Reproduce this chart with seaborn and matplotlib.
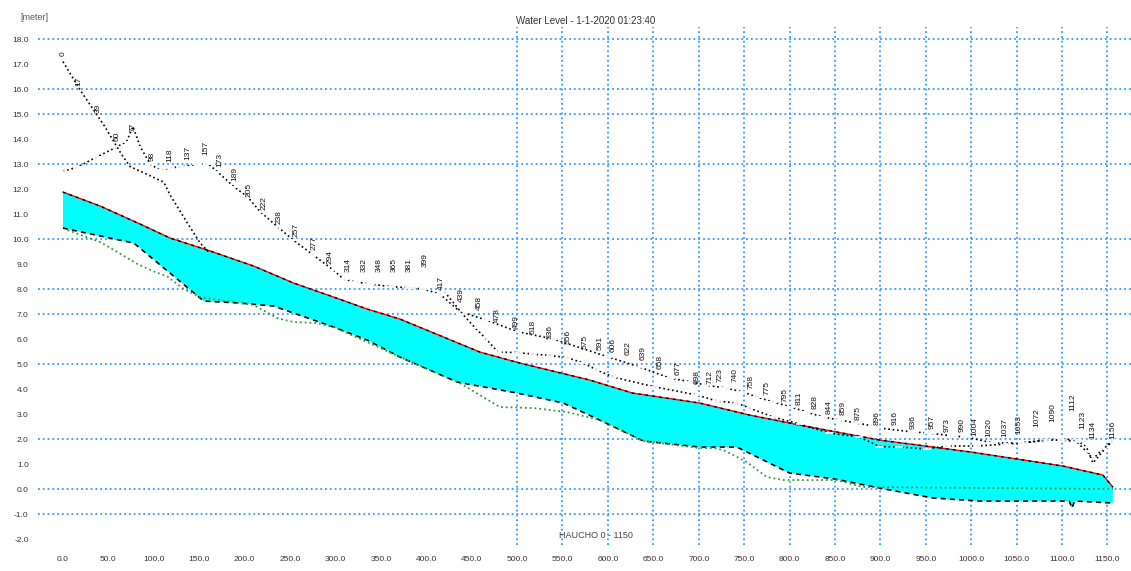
import numpy as np
import matplotlib
matplotlib.use('Agg')
import matplotlib.pyplot as plt
import seaborn as sns

# water surface (top of cyan band)
water_ch = [0, 41, 85, 118, 159, 210, 254, 298, 335, 371, 459, 503, 580, 627, 701, 756, 811, 899, 1000, 1101, 1145, 1156]
water_lv = [11.88, 11.32, 10.6, 10.04, 9.56, 8.92, 8.24, 7.68, 7.2, 6.8, 5.48, 5.04, 4.36, 3.84, 3.44, 2.96, 2.56, 1.96, 1.48, 0.92, 0.56, 0.08]

# bed level (bottom of cyan band)
bed_ch = [0, 78, 155, 195, 232, 298, 335, 371, 434, 500, 551, 591, 639, 701, 742, 800, 850, 899, 958, 1009, 1108, 1111, 1114, 1156]
bed_lv = [10.44, 9.84, 7.52, 7.44, 7.32, 6.48, 5.96, 5.28, 4.28, 3.84, 3.44, 2.76, 1.92, 1.68, 1.68, 0.64, 0.4, 0.04, -0.36, -0.48, -0.48, -0.76, -0.48, -0.56]

# green dotted level
green_ch = [5, 41, 60, 82, 99, 115, 133, 151, 210, 236, 254, 280, 298, 335, 371, 437, 481, 518, 555, 591, 639, 701, 716, 727, 738, 753, 775, 793, 852, 881, 1156]
green_lv = [10.36, 9.88, 9.48, 9.0, 8.72, 8.5, 8.0, 7.68, 7.36, 6.84, 6.68, 6.64, 6.48, 5.88, 5.28, 4.24, 3.28, 3.24, 3.08, 2.76, 1.92, 1.64, 1.64, 1.56, 1.36, 1.08, 0.48, 0.36, 0.36, 0.08, 0.0]

# upper bank line
bank1_ch = [0, 17, 38, 60, 70, 77, 85, 96, 107, 118, 133, 148, 160, 170, 188, 203, 217, 236, 254, 276, 298, 309, 320, 338, 360, 382, 397, 415, 437, 467, 500, 540, 599, 635, 668, 690, 709, 730, 749, 764, 782, 800, 819, 837, 855, 874, 892, 899, 936, 954, 980, 995, 1024, 1053, 1083, 1097, 1116, 1127, 1134, 1149, 1155]
bank1_lv = [12.7, 12.9, 13.3, 13.7, 13.9, 14.5, 13.7, 13.0, 12.75, 12.85, 12.9, 13.0, 13.0, 12.7, 12.1, 11.7, 11.1, 10.5, 9.95, 9.35, 8.75, 8.4, 8.3, 8.2, 8.1, 8.05, 8.0, 7.8, 7.1, 6.75, 6.3, 6.0, 5.3, 4.88, 4.44, 4.3, 4.15, 4.04, 3.88, 3.68, 3.48, 3.3, 3.08, 2.88, 2.76, 2.64, 2.52, 2.44, 2.28, 2.24, 2.12, 2.08, 1.84, 1.84, 1.96, 2.0, 1.96, 1.68, 1.04, 1.68, 1.96]

# second bank line
bank2_ch = [0, 19, 45, 65, 74, 95, 111, 118, 135, 142, 151, 160, 420, 440, 454, 465, 479, 500, 518, 536, 555, 573, 588, 606, 650, 698, 720, 742, 756, 782, 811, 844, 877, 899, 921, 951, 973, 1006, 1039, 1057, 1083, 1100, 1116, 1127, 1134, 1145, 1156]
bank2_lv = [17.1, 15.96, 14.56, 13.36, 12.9, 12.55, 12.28, 11.76, 10.76, 10.36, 9.84, 9.5, 7.9, 7.0, 6.44, 6.04, 5.48, 5.46, 5.4, 5.34, 5.26, 5.04, 4.76, 4.48, 4.1, 3.76, 3.52, 3.44, 3.24, 2.88, 2.6, 2.24, 2.08, 1.7, 1.68, 1.6, 1.72, 1.72, 1.8, 1.84, 1.96, 1.96, 1.9, 1.5, 1.2, 1.6, 1.9]

# cross-section chainage labels
label_ch = [0, 17, 39, 60, 77, 98, 118, 137, 157, 173, 189, 205, 222, 238, 257, 277, 294, 314, 332, 348, 365, 381, 399, 417, 439, 458, 478, 499, 518, 536, 556, 575, 591, 606, 622, 639, 658, 677, 698, 712, 723, 740, 758, 775, 795, 811, 828, 844, 859, 875, 896, 916, 936, 957, 973, 990, 1004, 1020, 1037, 1053, 1072, 1090, 1112, 1123, 1134, 1156]
label_lv = [17.4, 16.32, 15.24, 14.12, 14.48, 13.32, 13.36, 13.44, 13.64, 13.16, 12.6, 11.96, 11.44, 10.88, 10.36, 9.84, 9.28, 8.96, 8.96, 8.96, 8.96, 8.96, 9.16, 8.24, 7.76, 7.44, 6.96, 6.68, 6.48, 6.28, 6.08, 5.88, 5.84, 5.76, 5.64, 5.44, 5.08, 4.84, 4.48, 4.48, 4.56, 4.56, 4.28, 4.04, 3.76, 3.64, 3.48, 3.28, 3.24, 3.04, 2.84, 2.84, 2.68, 2.68, 2.56, 2.56, 2.48, 2.44, 2.44, 2.56, 2.84, 3.04, 3.48, 2.76, 2.36, 2.36]

y_grid = [18, 16, 15, 13, 10, 8, 7, 5, 2, 0, -1]
x_grid = list(range(500, 1151, 50))
x_ticks = list(range(0, 1151, 50))
y_ticks = list(range(-2, 19))


def run():
    sns.set_style('white')
    plt.rcParams['font.family'] = ['Liberation Sans', 'DejaVu Sans']

    fig = plt.figure(figsize=(11.31, 5.71), dpi=100)
    ax = fig.add_axes([0.034, 0.0455, 0.966, 0.907])

    grid_kw = dict(color='#3399ff', linestyle=':', linewidth=1.3, zorder=0)
    for y in y_grid:
        ax.axhline(y, **grid_kw)
    for x in x_grid:
        ax.axvline(x, **grid_kw)

    # water body between bed and water surface
    ax.fill(np.r_[water_ch, bed_ch[::-1]], np.r_[water_lv, bed_lv[::-1]],
            color='#00ffff', linewidth=0, zorder=1)

    sns.lineplot(x=water_ch, y=water_lv, color='red', linewidth=1.0, ax=ax, zorder=2)
    sns.lineplot(x=water_ch, y=water_lv, color='black', linewidth=1.0,
                 ax=ax, zorder=3).lines[-1].set_dashes([2, 3])
    sns.lineplot(x=bed_ch, y=bed_lv, color='black', linewidth=1.2,
                 ax=ax, zorder=3).lines[-1].set_dashes([3, 2.5])
    sns.lineplot(x=green_ch, y=green_lv, color='#2e9e2e', linewidth=1.3,
                 linestyle=':', ax=ax, zorder=4)

    sns.lineplot(x=bank1_ch, y=bank1_lv, color='black', linewidth=1.2, linestyle=':',
                 marker='_', markersize=7, markeredgewidth=1.3, ax=ax, zorder=4)
    sns.lineplot(x=bank2_ch[:12], y=bank2_lv[:12], color='black', linewidth=1.2,
                 linestyle=':', ax=ax, zorder=4)
    sns.lineplot(x=bank2_ch[12:], y=bank2_lv[12:], color='black', linewidth=1.2, linestyle=':',
                 marker='_', markersize=6, markeredgewidth=1.2, ax=ax, zorder=4)

    for ch, lv in zip(label_ch, label_lv):
        ax.text(ch, lv, str(ch), rotation=90, ha='center', va='center',
                fontsize=6, color='#111111', zorder=5)

    ax.set_xlim(-27, 1176)
    ax.set_ylim(-2.24, 18.48)
    ax.set_xticks(x_ticks)
    ax.set_xticklabels([f'{v:.1f}' for v in x_ticks])
    ax.set_xticks(list(range(-20, 1171, 10)), minor=True)
    ax.set_yticks(y_ticks)
    ax.set_yticklabels([f'{v:.1f}' for v in y_ticks])
    ax.set_yticks([v + 0.5 for v in range(-2, 18)], minor=True)
    ax.tick_params(axis='both', which='major', labelsize=6, colors='#333333',
                   length=3, width=1.2)
    ax.tick_params(axis='both', which='minor', length=2, width=1.0, colors='#333333')
    ax.tick_params(axis='x', which='major', length=2, pad=6)
    ax.tick_params(axis='y', which='major', pad=4)
    for s in ax.spines.values():
        s.set_visible(False)
    ax.set_xlabel('')
    ax.set_ylabel('')

    fig.text(0.518, 0.963, 'Water Level - 1-1-2020 01:23:40', ha='center', va='center',
             fontsize=7, color='#333333')
    fig.text(0.018, 0.969, '[meter]', ha='left', va='center', fontsize=6.5, color='#555555')
    ax.text(587, -1.85, 'HAUCHO 0 - 1150', ha='center', va='center', fontsize=6.5,
            color='#444444')

    fig.savefig('out.png', dpi=100)


if __name__ == '__main__':
    run()
